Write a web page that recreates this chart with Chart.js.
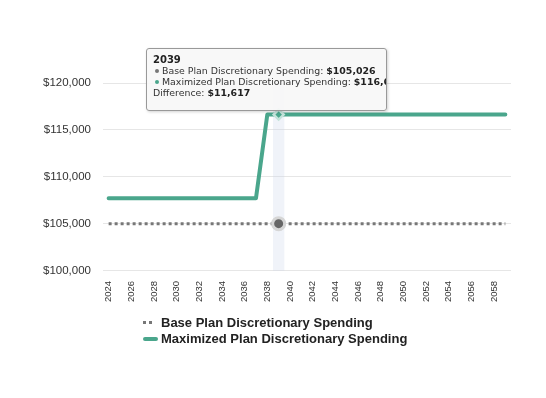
<!DOCTYPE html>
<html>
<head>
<meta charset="utf-8">
<script src="https://cdn.jsdelivr.net/npm/chart.js@4.4.1/dist/chart.umd.min.js"></script>
<style>
  body { margin: 0; background: #fff; }
  #wrap { position: relative; width: 546px; height: 398px; }
  #chart { position: absolute; left: 0; top: 0; }
  #tip {
    position: absolute; left: 146px; top: 48px; width: 227px; height: 50px;
    padding: 5px 6px 6px 6px; line-height: 12.3px; overflow: hidden;
    background: rgba(247, 247, 247, 0.9); border: 1px solid #999; border-radius: 3px;
    box-shadow: 1px 1px 3px rgba(0, 0, 0, 0.18);
    font: 9.4px "DejaVu Sans", sans-serif; color: #333; white-space: nowrap;
  }
  #tip b { color: #222; }
  #tip .hd { font-size: 10px; }
  #tip .dot { display: inline-block; width: 4px; height: 4px; border-radius: 50%; margin: 0 3px 1px 2px; }
  #legend { position: absolute; left: 143px; top: 315px; font: bold 13px "Liberation Sans", Arial, sans-serif; color: #222; }
  #legend .row { height: 16px; line-height: 16px; white-space: nowrap; }
  #legend .mk { display: inline-block; width: 15px; margin-right: 3px; vertical-align: middle; position: relative; top: -1px; }
</style>
</head>
<body>
<div id="wrap">
  <canvas id="chart" width="546" height="398"></canvas>
  <div id="tip"></div>
  <div id="legend"></div>
</div>
<script>
const years = [2024, 2025, 2026, 2027, 2028, 2029, 2030, 2031, 2032, 2033, 2034, 2035,
  2036, 2037, 2038, 2039, 2040, 2041, 2042, 2043, 2044, 2045, 2046, 2047,
  2048, 2049, 2050, 2051, 2052, 2053, 2054, 2055, 2056, 2057, 2058, 2059];

const basePlan = [105026, 105026, 105026, 105026, 105026, 105026, 105026, 105026, 105026, 105026, 105026, 105026,
  105026, 105026, 105026, 105026, 105026, 105026, 105026, 105026, 105026, 105026, 105026, 105026,
  105026, 105026, 105026, 105026, 105026, 105026, 105026, 105026, 105026, 105026, 105026, 105026];

const maxPlan = [107730, 107730, 107730, 107730, 107730, 107730, 107730, 107730, 107730, 107730, 107730, 107730,
  107730, 107730, 116643, 116643, 116643, 116643, 116643, 116643, 116643, 116643, 116643, 116643,
  116643, 116643, 116643, 116643, 116643, 116643, 116643, 116643, 116643, 116643, 116643, 116643];

const seriesNames = ['Base Plan Discretionary Spending', 'Maximized Plan Discretionary Spending'];
const xTickLabels = [2024, 2026, 2028, 2030, 2032, 2034, 2036, 2038, 2040, 2042,
  2044, 2046, 2048, 2050, 2052, 2054, 2056, 2058];
const yTicks = [100000, 105000, 110000, 115000, 120000];

const hoverIndex = 15; // 2039

const GREY = '#777777';
const TEAL = '#4aa68c';
const FONT = '"Liberation Sans", Arial, Helvetica, sans-serif';

const money = v => '$' + v.toLocaleString('en-US');

// light column behind the hovered year
const hoverBand = {
  id: 'hoverBand',
  beforeDatasetsDraw(chart) {
    const { ctx, chartArea, scales: { x } } = chart;
    const cx = x.getPixelForValue(hoverIndex);
    const w = x.width / years.length;
    ctx.save();
    ctx.fillStyle = 'rgba(204, 214, 235, 0.3)';
    ctx.fillRect(cx - w / 2, chartArea.top, w, chartArea.bottom - chartArea.top);
    ctx.restore();
  }
};

const chart = new Chart(document.getElementById('chart'), {
  type: 'line',
  data: {
    labels: years,
    datasets: [
      {
        label: seriesNames[0],
        data: basePlan,
        borderColor: GREY,
        borderWidth: 3,
        borderDash: [3, 3],
        pointRadius: c => c.dataIndex === hoverIndex ? 6 : 0,
        pointBorderWidth: 3,
        pointBackgroundColor: '#666666',
        pointBorderColor: '#d6d6d6',
      },
      {
        label: seriesNames[1],
        data: maxPlan,
        borderColor: TEAL,
        borderWidth: 4,
        borderCapStyle: 'round',
        borderJoinStyle: 'round',
        pointStyle: 'rectRot',
        pointRadius: c => c.dataIndex === hoverIndex ? 5 : 0,
        pointBorderWidth: 2.5,
        pointBackgroundColor: TEAL,
        pointBorderColor: '#c4e3da',
      },
    ],
  },
  options: {
    responsive: false,
    animation: false,
    events: [],
    layout: { padding: { left: 31, right: 35, top: 83, bottom: 86 } },
    elements: { line: { tension: 0 } },
    plugins: {
      legend: { display: false },
      tooltip: { enabled: false },
    },
    scales: {
      x: {
        offset: true,
        grid: { display: false, drawTicks: false },
        border: { display: false },
        ticks: {
          autoSkip: false,
          minRotation: 90,
          maxRotation: 90,
          padding: 10,
          color: '#333',
          font: { size: 9.5, family: FONT },
          callback(value, index) {
            const label = this.getLabelForValue(value);
            return xTickLabels.includes(label) ? String(label) : null;
          },
        },
      },
      y: {
        min: 100000,
        max: 120000,
        afterBuildTicks: s => { s.ticks = yTicks.map(v => ({ value: v })); },
        grid: { color: '#e6e6e6', drawTicks: false },
        border: { display: false },
        ticks: {
          padding: 12,
          color: '#333',
          font: { size: 11.5, family: FONT },
          callback: v => money(v),
        },
      },
    },
  },
  plugins: [hoverBand],
});

// tooltip for the hovered year
const b = basePlan[hoverIndex], m = maxPlan[hoverIndex];
document.getElementById('tip').innerHTML =
  '<b class="hd">' + years[hoverIndex] + '</b><br>' +
  '<span class="dot" style="background:' + GREY + '"></span>' + seriesNames[0] + ': <b>' + money(b) + '</b><br>' +
  '<span class="dot" style="background:' + TEAL + '"></span>' + seriesNames[1] + ': <b>' + money(m) + '</b><br>' +
  'Difference: <b>' + money(m - b) + '</b>';

// legend
document.getElementById('legend').innerHTML =
  '<div class="row"><span class="mk" style="height:3px;background:repeating-linear-gradient(90deg,' + GREY + ' 0 3px,transparent 3px 6px);width:11px;margin-right:7px"></span>' + seriesNames[0] + '</div>' +
  '<div class="row"><span class="mk" style="height:4px;background:' + TEAL + ';border-radius:2px"></span>' + seriesNames[1] + '</div>';
</script>
</body>
</html>
